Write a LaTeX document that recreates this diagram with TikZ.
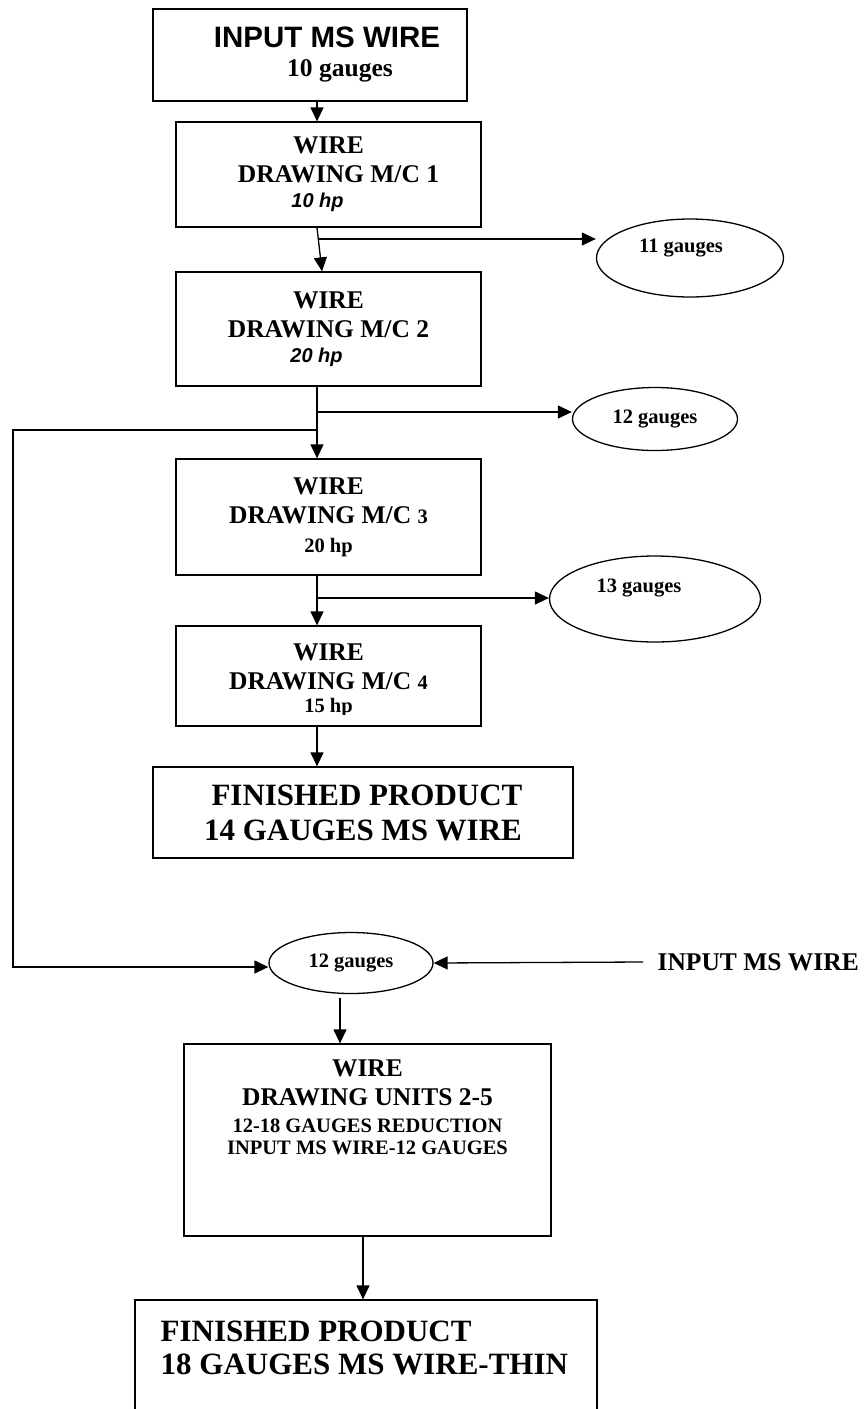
\documentclass[tikz,border=0pt]{standalone}
\usepackage{fontspec}
\setmainfont{Liberation Serif}
\newfontfamily\arialfont{Liberation Sans}
\usetikzlibrary{arrows.meta,shapes.geometric}

\newcommand\bigsz{\fontsize{25.5}{29}\selectfont}
\newcommand\midsz{\fontsize{20.5}{24}\selectfont}
\newcommand\hugesz{\fontsize{31}{35}\selectfont}
\newcommand\hpfont{\arialfont\itshape\fontsize{20}{24}\selectfont}

\tikzset{
  box/.style={draw, rectangle, minimum width=305pt, align=center, inner sep=0pt, font=\bfseries\bigsz},
  blob/.style={draw, ellipse, inner sep=0pt},
  gtext/.style={font=\bfseries\midsz, inner sep=0pt},
}

\begin{document}
\begin{tikzpicture}[x=1pt, y=-1pt, line width=1.3pt, >={Triangle[length=14pt,width=13pt]}]
    \clip (0,0) rectangle (865,1409);

    % the four machines in a row
    \node[box, minimum width=314pt, minimum height=92pt] (input) at (310,55)
        {\hspace*{34pt}{\arialfont\fontsize{29.5}{34}\selectfont INPUT MS WIRE}\\\hspace*{60pt}10 gauges};
    \node[box, minimum height=105pt] (mc1) at (328.5,174.5)
        {WIRE\\\hspace*{20pt}DRAWING M/C 1\\[-4pt]{\hpfont 10 hp}\hspace*{22pt}\mbox{}};
    \node[box, minimum height=114pt] (mc2) at (328.5,329)
        {WIRE\\DRAWING M/C 2\\[-4pt]{\hpfont 20 hp}\hspace*{24pt}\mbox{}};
    \node[box, minimum height=116pt] (mc3) at (328.5,517)
        {WIRE\\DRAWING M/C {\midsz 3}\\{\midsz 20 hp}};
    \node[box, minimum height=100pt] (mc4) at (328.5,676) {};
    \node[font=\bfseries\bigsz, align=center, inner sep=0pt] (mc4txt) at (328.5,667)
        {WIRE\\DRAWING M/C {\midsz 4}};
    \begin{scope}
        \clip (mc4.west |- 0,690) rectangle (mc4.east |- 0,714);
        \node[font=\bfseries\midsz, inner sep=0pt] (mc4hp) at (328.5,708) {15 hp};
    \end{scope}
    \node[box, minimum width=420pt, minimum height=91pt, font=\bfseries\hugesz] (prod14) at (363,812.5)
        {\hspace*{8pt}FINISHED PRODUCT\\14 GAUGES MS WIRE};

    % gauges taken off after each pass
    \node[blob, minimum width=187pt, minimum height=78pt,
        label={[gtext, xshift=-9pt, yshift=10pt]center:11 gauges}] (g11) at (690,258) {};
    \node[blob, minimum width=165pt, minimum height=63pt,
        label={[gtext]center:12 gauges}] (g12) at (655,419) {};
    \node[blob, minimum width=211pt, minimum height=86pt,
        label={[gtext, xshift=-16pt, yshift=11pt]center:13 gauges}] (g13) at (655,599) {};

    % second line
    \node[blob, minimum width=164pt, minimum height=61pt,
        label={[gtext]center:12 gauges}] (g12b) at (351,963) {};
    \node[font=\bfseries\bigsz, inner sep=0pt, anchor=west] (feed) at (657,962) {INPUT MS WIRE};
    \node[box, minimum width=367pt, minimum height=192pt] (units) at (367.5,1140) {};
    \node[font=\bfseries\bigsz, align=center, inner sep=0pt, anchor=north] (unitstxt) at (367.5,1059)
        {WIRE\\DRAWING UNITS 2-5\\[-2pt]{\midsz 12-18 GAUGES REDUCTION}\\[-7pt]{\midsz INPUT MS WIRE-12 GAUGES}};
    \node[draw, rectangle, minimum width=462pt, minimum height=140pt] (prod18) at (366,1370) {};
    \node[font=\bfseries\hugesz, align=left, inner sep=0pt, anchor=north west] (prod18txt) at (160,1320)
        {FINISHED PRODUCT\\[-2pt]18 GAUGES MS WIRE-THIN};

    \coordinate (spine) at (317,0);
    \coordinate (kink) at (322,0);
    \coordinate (b11) at (318,239);
    \coordinate (b12) at (317,412);
    \coordinate (b0) at (317,430);
    \coordinate (back) at (13,430);
    \coordinate (corner) at (13,967);
    \coordinate (b13) at (317,598);
    \coordinate (drop) at (340,0);
    \coordinate (drop2) at (363,0);

    \draw[->] (spine |- input.south) -- (spine |- mc1.north);
    \draw[->] (spine |- mc1.south) -- (kink |- mc2.north);
    \draw[->] (b11) -- (b11 -| g11.west);
    \draw[->] (spine |- mc2.south) -- (spine |- mc3.north);
    \draw[->] (b12) -- (b12 -| g12.west);
    \draw[->] (b0) -- (back) -- (corner) -- (corner -| g12b.west);
    \draw[->] (spine |- mc3.south) -- (spine |- mc4.north);
    \draw[->] (b13) -- (b13 -| g13.west);
    \draw[->] (spine |- mc4.south) -- (spine |- prod14.north);

    \draw[->] ([xshift=-14pt]feed.west) -- (g12b.east);
    \draw[->] ([yshift=-4pt]drop |- g12b.south) -- (drop |- units.north);
    \draw[->] (drop2 |- units.south) -- (drop2 |- prod18.north);
\end{tikzpicture}
\end{document}
